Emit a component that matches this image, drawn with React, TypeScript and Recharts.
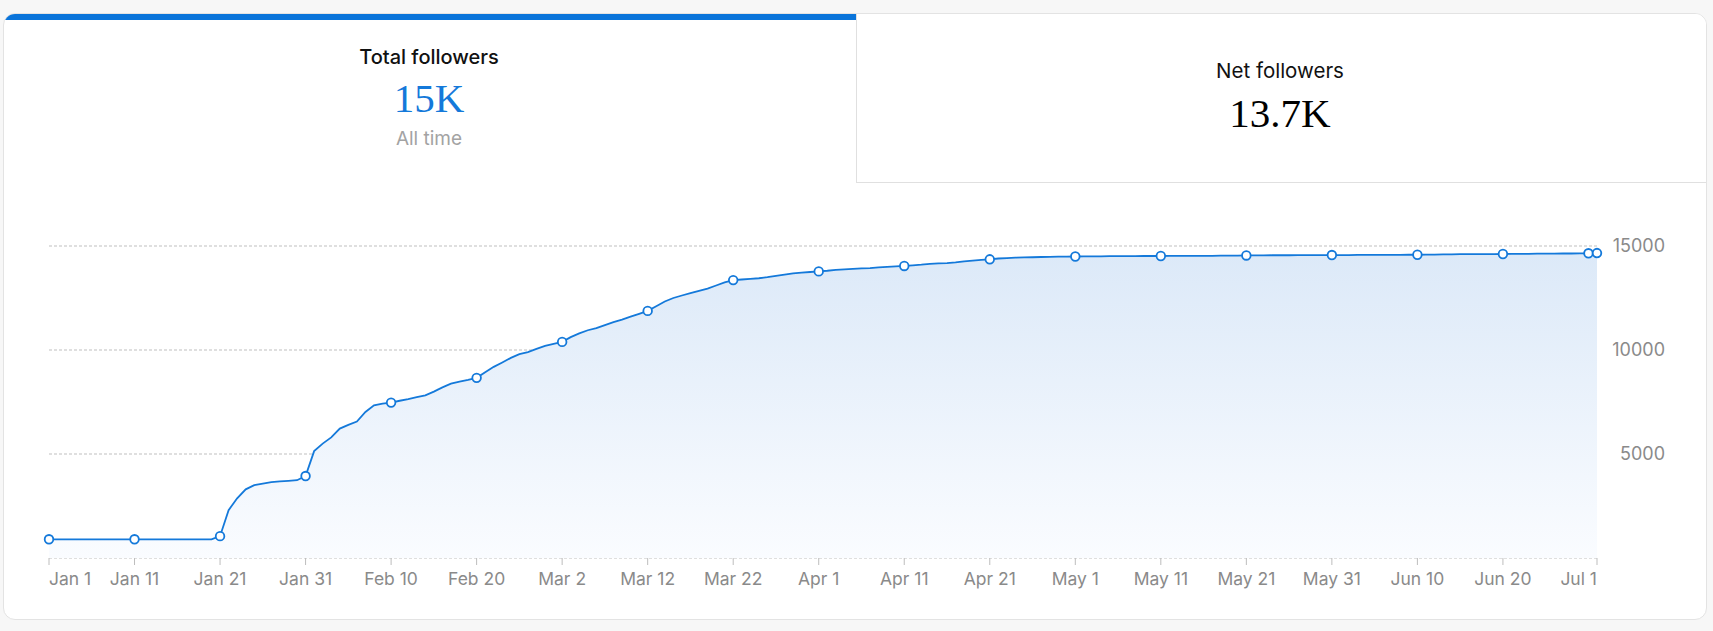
import React from "react";
import { AreaChart, Area, XAxis, YAxis, CartesianGrid } from "recharts";

// daily follower totals, Jan 1 -> Jul 1
const followers = [
  900, 900, 900, 900, 900, 900, 900, 900, 900, 900,
  900, 900, 900, 900, 900, 900, 900, 900, 900, 900,
  1050, 2300, 2870, 3300, 3500, 3580, 3650, 3680, 3710, 3740,
  3940, 5140, 5500, 5800, 6220, 6400, 6560, 7020, 7340, 7420,
  7470, 7560, 7640, 7730, 7820, 8000, 8200, 8380, 8480, 8560,
  8660, 8930, 9190, 9400, 9620, 9800, 9900, 10050, 10200, 10300,
  10390, 10620, 10800, 10950, 11050, 11200, 11340, 11460, 11600, 11740,
  11880, 12100, 12330, 12500, 12620, 12730, 12840, 12950, 13100, 13250,
  13360, 13390, 13420, 13450, 13500, 13560, 13620, 13680, 13720, 13750,
  13780, 13810, 13850, 13880, 13900, 13920, 13940, 13970, 14000, 14020,
  14040, 14070, 14100, 14140, 14160, 14180, 14210, 14260, 14300, 14330,
  14360, 14400, 14420, 14440, 14450, 14460, 14470, 14480, 14485, 14490,
  14495, 14500, 14500, 14505, 14510, 14510, 14515, 14515, 14520, 14520,
  14520, 14525, 14525, 14525, 14530, 14530, 14530, 14535, 14535, 14540,
  14545, 14550, 14550, 14555, 14555, 14555, 14560, 14560, 14560, 14565,
  14565, 14565, 14565, 14570, 14570, 14570, 14575, 14575, 14575, 14580,
  14580, 14585, 14590, 14595, 14600, 14605, 14605, 14610, 14610, 14612,
  14615, 14620, 14620, 14625, 14630, 14630, 14635, 14640, 14640, 14645,
  14650, 14660,
];

const tickDays = [0, 10, 20, 30, 40, 50, 60, 70, 80, 90, 100, 110, 120, 130, 140, 150, 160, 170, 181];
const tickLabels = [
  "Jan 1", "Jan 11", "Jan 21", "Jan 31", "Feb 10", "Feb 20", "Mar 2", "Mar 12", "Mar 22",
  "Apr 1", "Apr 11", "Apr 21", "May 1", "May 11", "May 21", "May 31", "Jun 10", "Jun 20", "Jul 1",
];
const yTicks = [0, 5000, 10000, 15000];

const data = followers.map((v, i) => ({ day: i, followers: v }));
const lastIdx = followers.length - 1;

const BLUE = "#1479da";
const GREY = "#8a8a8a";
const FONT = "Inter, 'Noto Sans', sans-serif";

const renderDot = (p: any) => {
  const { cx, cy, index } = p;
  if (index % 10 !== 0 && index !== lastIdx) return <g key={`d${index}`} />;
  return <circle key={`d${index}`} cx={cx} cy={cy} r={4.3} fill="#fff" stroke={BLUE} strokeWidth={1.8} />;
};

const XTick = (p: any) => {
  const i = tickDays.indexOf(p.payload.value);
  const anchor = i === 0 ? "start" : i === tickDays.length - 1 ? "end" : "middle";
  return (
    <text x={p.x} y={p.y} dy={11} textAnchor={anchor} dominantBaseline="central" fill={GREY} fontSize={17.5} fontFamily={FONT}>
      {tickLabels[i]}
    </text>
  );
};

const YTick = (p: any) => {
  if (p.payload.value === 0) return <g />;
  return (
    <text x={1665} y={p.y} dy={-1} textAnchor="end" dominantBaseline="central" fill={GREY} fontSize={18} fontFamily={FONT}>
      {p.payload.value}
    </text>
  );
};

const centered = (cx: number, cy: number, lh: number): React.CSSProperties => ({
  position: "absolute",
  left: cx - 200,
  width: 400,
  top: cy - lh / 2,
  height: lh,
  lineHeight: `${lh}px`,
  textAlign: "center",
  whiteSpace: "nowrap",
});

export default function App() {
  return (
    <div style={{ position: "relative", width: 1713, height: 631, background: "#f7f7f7", overflow: "hidden" }}>
      <style>{`body{margin:0;background:#f7f7f7}`}</style>

      <div
        style={{
          position: "absolute",
          left: 3,
          top: 13,
          width: 1702,
          height: 605,
          background: "#fff",
          border: "1px solid #e3e3e3",
          borderRadius: 12,
          overflow: "hidden",
        }}
      >
        <div style={{ position: "absolute", left: 0, top: 0, width: 852, height: 6, background: "#0a74da" }} />
        <div
          style={{
            position: "absolute",
            left: 852,
            top: 0,
            right: 0,
            height: 168,
            borderLeft: "1px solid #e0e0e0",
            borderBottom: "1px solid #e0e0e0",
            background: "#fff",
          }}
        />
      </div>

      <div style={{ ...centered(429, 57, 26), fontFamily: FONT, fontSize: 20, fontWeight: 500, color: "#111" }}>
        Total followers
      </div>
      <div style={{ ...centered(429, 98, 46), fontFamily: "'Liberation Serif', serif", fontSize: 41, color: BLUE }}>
        15K
      </div>
      <div style={{ ...centered(429, 139, 24), fontFamily: FONT, fontSize: 19, color: "#a3a3a3" }}>All time</div>

      <div style={{ ...centered(1280, 71, 26), fontFamily: FONT, fontSize: 20.5, color: "#111" }}>Net followers</div>
      <div style={{ ...centered(1280, 113, 46), fontFamily: "'Liberation Serif', serif", fontSize: 41, color: "#000" }}>
        13.7K
      </div>

      <div style={{ position: "absolute", left: 0, top: 200 }}>
        <AreaChart width={1713} height={431} data={data} margin={{ top: 46, right: 0, left: 49, bottom: 43 }}>
          <defs>
            <linearGradient id="fillGrad" x1="0" y1="0" x2="0" y2="1">
              <stop offset="0%" stopColor="#dce9f8" />
              <stop offset="100%" stopColor="#fafcff" />
            </linearGradient>
          </defs>
          <CartesianGrid vertical={false} stroke="#bfbfbf" strokeDasharray="3 2" />
          <XAxis
            dataKey="day"
            type="number"
            domain={[0, lastIdx]}
            ticks={tickDays}
            interval={0}
            axisLine={false}
            tickLine={{ stroke: "#bdbdbd" }}
            tickSize={7}
            height={30}
            tick={<XTick />}
          />
          <YAxis
            orientation="right"
            type="number"
            domain={[0, 15000]}
            ticks={yTicks}
            width={116}
            axisLine={false}
            tickLine={false}
            tick={<YTick />}
          />
          <Area
            type="linear"
            dataKey="followers"
            stroke={BLUE}
            strokeWidth={1.8}
            fill="url(#fillGrad)"
            fillOpacity={1}
            dot={renderDot}
            activeDot={false}
            isAnimationActive={false}
          />
        </AreaChart>
      </div>
    </div>
  );
}
